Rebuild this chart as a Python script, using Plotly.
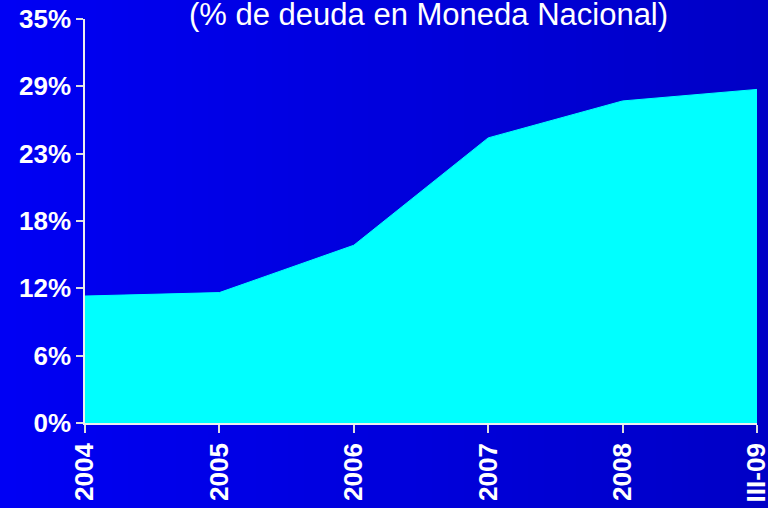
import plotly.graph_objects as go

# Data
periods = ["2004", "2005", "2006", "2007", "2008", "III-09"]
share_pct = [11.0, 11.3, 15.4, 24.7, 27.9, 28.9]
y_tick_labels = ["0%", "6%", "12%", "18%", "23%", "29%", "35%"]
title_text = "(% de deuda en Moneda Nacional)"

Y_MAX = 35.0
x_pos = list(range(len(periods)))
y_ticks = [Y_MAX / 6 * i for i in range(7)]

FONT = "Liberation Sans, Arial, sans-serif"

fig = go.Figure()
fig.add_trace(
    go.Scatter(
        x=x_pos,
        y=share_pct,
        mode="lines",
        fill="tozeroy",
        fillcolor="#00FFFF",
        line=dict(color="#00FFFF", width=1),
        hoverinfo="skip",
        showlegend=False,
    )
)

# ── Horizontal blue gradient background via thin strips ─────────────────────
W, H = 768, 508
ml, mr, mt, mb = 85, 11, 19, 85
pw = W - ml - mr
ph = H - mt - mb
n_strips = 48
x0_paper = -ml / pw
x1_paper = 1 + mr / pw
shapes = []
for s in range(n_strips):
    t = s / (n_strips - 1)
    b = round(244 - (244 - 198) * t)
    a = x0_paper + (x1_paper - x0_paper) * s / n_strips
    c = x0_paper + (x1_paper - x0_paper) * (s + 1) / n_strips
    shapes.append(
        dict(
            type="rect", xref="paper", yref="paper",
            x0=a, x1=c + 0.002, y0=-mb / ph - 0.01, y1=1 + mt / ph + 0.01,
            fillcolor=f"rgb(0,0,{b})", line=dict(width=0), layer="below",
        )
    )

tick_font = dict(size=26, color="white", family=FONT, weight="bold")

fig.update_layout(
    width=W,
    height=H,
    margin=dict(l=ml, r=mr, t=mt, b=mb, autoexpand=False),
    paper_bgcolor="rgb(0,0,220)",
    plot_bgcolor="rgba(0,0,0,0)",
    shapes=shapes,
    font=dict(family=FONT, color="white"),
    title=dict(
        text=title_text,
        x=0.558, xanchor="center",
        y=1 - 14 / H, yanchor="middle",
        font=dict(size=31, color="white"),
    ),
    xaxis=dict(
        range=[0, len(periods) - 1],
        tickvals=x_pos,
        ticktext=periods,
        tickangle=-90,
        tickfont=tick_font,
        ticklabeloverflow="allow",
        automargin=False,
        ticks="outside", ticklen=8, tickcolor="#DDDDDD", tickwidth=1.5,
        showline=True, linecolor="#EEEEEE", linewidth=1.5,
        showgrid=False, zeroline=False, fixedrange=True,
    ),
    yaxis=dict(
        range=[0, Y_MAX],
        tickvals=y_ticks,
        ticktext=y_tick_labels,
        tickfont=tick_font,
        automargin=False,
        ticks="outside", ticklen=7, tickcolor="#DDDDDD", tickwidth=1.5,
        showline=True, linecolor="#EEEEEE", linewidth=1.5,
        showgrid=False, zeroline=False, fixedrange=True,
    ),
)

fig.write_html(
    "out.html",
    config={"displayModeBar": False},
    post_script="document.body.style.margin='0';",
)
